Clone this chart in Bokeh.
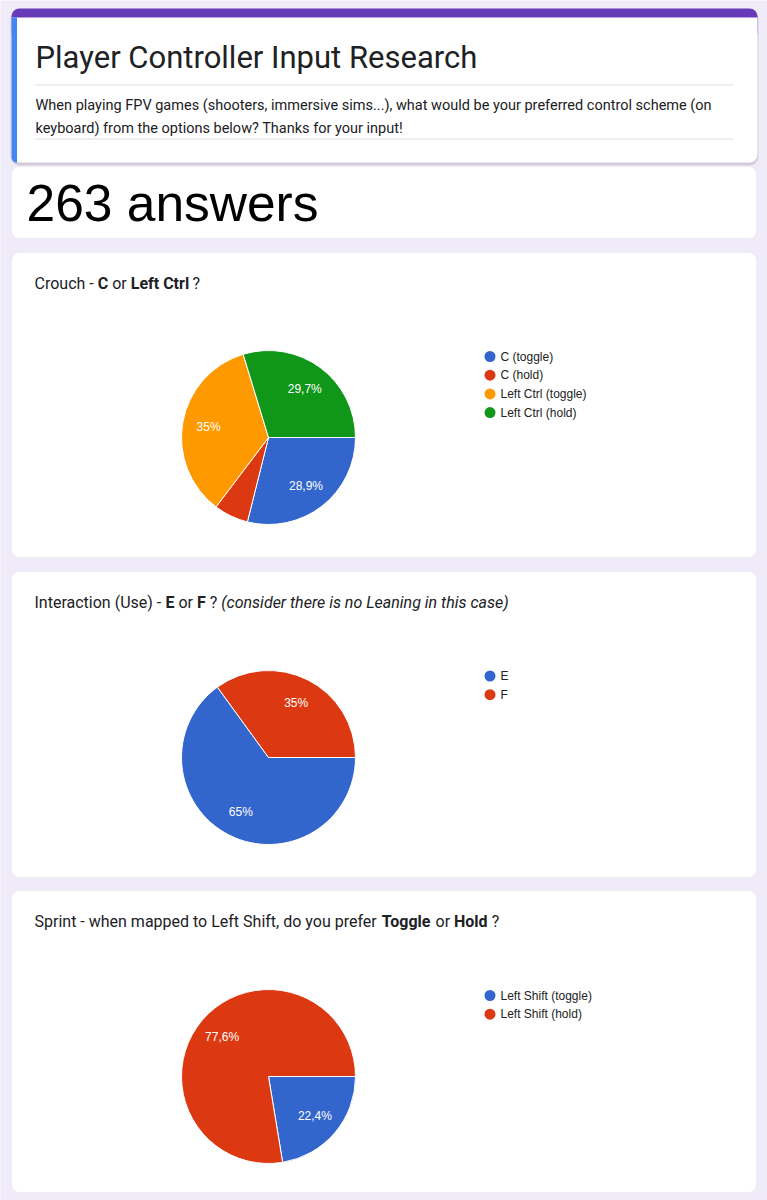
import math
from bokeh.plotting import figure
from bokeh.models import Range1d, BoxAnnotation, ColumnDataSource
from bokeh.core.properties import value
from bokeh.embed import file_html
from bokeh.resources import INLINE

# ---------------- data ----------------
form_title = "Player Controller Input Research"
form_desc = [
    "When playing FPV games (shooters, immersive sims...), what would be your preferred control scheme (on",
    "keyboard) from the options below? Thanks for your input!",
]
answers_text = "263 answers"

crouch_labels = ["C (toggle)", "C (hold)", "Left Ctrl (toggle)", "Left Ctrl (hold)"]
crouch_pcts = [28.9, 6.4, 35.0, 29.7]

use_labels = ["E", "F"]
use_pcts = [65.0, 35.0]

sprint_labels = ["Left Shift (toggle)", "Left Shift (hold)"]
sprint_pcts = [22.4, 77.6]

palette = ["#3366cc", "#dc3912", "#ff9900", "#109618"]

# question titles: (text, style)
crouch_q = [("Crouch -", "normal"), ("C", "bold"), ("or", "normal"),
            ("Left Ctrl", "bold"), ("?", "normal")]
use_q = [("Interaction (Use) -", "normal"), ("E", "bold"), ("or", "normal"),
         ("F", "bold"), ("?", "normal"),
         ("(consider there is no Leaning in this case)", "italic")]
sprint_q = [("Sprint - when mapped to Left Shift, do you prefer", "normal"),
            ("Toggle", "bold"), ("or", "normal"), ("Hold", "bold"), ("?", "normal")]

# ---------------- figure ----------------
W, H = 767, 1200
p = figure(width=W, height=H, x_range=Range1d(0, W), y_range=Range1d(0, H),
           output_backend="svg", toolbar_location=None,
           x_axis_type=None, y_axis_type=None, min_border=0)
p.grid.visible = False
p.outline_line_color = None
p.background_fill_color = "#f0ebf8"
p.border_fill_color = "#f0ebf8"


def Y(v):
    return H - v


def box(l, r, t, b, fill, line=None, radius=8, alpha=1.0):
    p.add_layout(BoxAnnotation(left=l, right=r, top=Y(t), bottom=Y(b), fill_color=fill,
                               fill_alpha=alpha, line_color=line, border_radius=radius,
                               level="underlay"))


L, R = 11, 757
# header card
box(L - 1, R + 1, 9, 165, "#c9c4d0", radius=9, alpha=0.8)
box(L, R, 8, 40, "#673ab7")
box(L, R, 17, 162, "#ffffff", radius=(0, 0, 8, 8))
box(L, L + 5.5, 17, 162, "#4285f4", radius=(0, 0, 0, 8))
# answers card and question cards
box(L, R - 1, 166, 238, "#ffffff", line="#dadce0")
box(L, R - 1, 252, 557, "#ffffff", line="#dadce0")
box(L, R - 1, 571, 877, "#ffffff", line="#dadce0")
box(L, R - 1, 890, 1192, "#ffffff", line="#dadce0")

# header texts
p.text(x=[35], y=[Y(57)], text=[form_title], text_font=value("Roboto"),
       text_font_size="31px", text_color="#202124", text_baseline="middle")
p.segment(x0=[35, 35], x1=[733, 733], y0=[Y(84.5), Y(138.5)], y1=[Y(84.5), Y(138.5)],
          line_color="#dadce0", line_width=1)
p.text(x=[35, 35], y=[Y(105), Y(128)], text=form_desc, text_font=value("Roboto"),
       text_font_size="14.5px", text_color="#202124", text_baseline="middle")
p.text(x=[26], y=[Y(202)], text=[answers_text], text_font=value("Liberation Sans"),
       text_font_size="51.5px", text_color="#000000", text_baseline="middle")

# approximate Roboto advance widths (em) used to lay out mixed-weight titles
REG = {' ': .248, '-': .276, '?': .473, '(': .342, ')': .348, ',': .196, 'C': .652,
       'I': .272, 'L': .538, 'S': .615, 'U': .648, 'a': .544, 'c': .523, 'd': .564,
       'e': .530, 'f': .347, 'h': .551, 'i': .243, 'm': .876, 'n': .552, 'o': .570,
       'p': .561, 'r': .338, 's': .516, 't': .327, 'u': .551, 'w': .751, 'y': .473}
BOLD = {'C': .654, 'E': .566, 'F': .550, 'L': .541, 'T': .616, 'H': .715, 't': .335,
        'r': .350, 'l': .262, 'f': .353, 'e': .533, 'o': .570, 'g': .566, 'd': .566,
        ' ': .248}


def width(txt, style, size):
    tbl = BOLD if style == "bold" else REG
    return sum(tbl.get(ch, .55) for ch in txt) * size


def question(parts, yc, x0=34, size=16):
    x = x0
    for txt, style in parts:
        p.text(x=[x], y=[Y(yc)], text=[txt], text_font=value("Roboto"),
               text_font_size=f"{size}px", text_color="#202124", text_baseline="middle",
               text_font_style=style)
        x += width(txt, style, size) + REG[' '] * size


def fmt(v):
    return ("%g" % v).replace(".", ",") + "%"


def pie(labels, pcts, cy, legend_y0):
    cx, r = 268, 87
    total = sum(pcts)
    cum = 0.0
    starts, ends, mids = [], [], []
    for v in pcts:
        a0 = cum / total
        cum += v
        a1 = cum / total
        starts.append(-2 * math.pi * a1)
        ends.append(-2 * math.pi * a0)
        mids.append(-2 * math.pi * (a0 + a1) / 2)
    cols = palette[:len(pcts)]
    src = ColumnDataSource(dict(start=starts, end=ends, color=cols))
    p.wedge(x=cx, y=Y(cy), radius=r, radius_units="screen", start_angle="start",
            end_angle="end", fill_color="color", line_color="white", line_width=1,
            source=src)
    lx, ly, lt = [], [], []
    for v, m in zip(pcts, mids):
        if v / total < 0.1:
            continue
        lx.append(cx + 0.7 * r * math.cos(m))
        ly.append(Y(cy) + 0.7 * r * math.sin(m))
        lt.append(fmt(v))
    p.text(x=lx, y=ly, text=lt, text_font=value("Liberation Sans"), text_font_size="12px",
           text_color="#ffffff", text_align="center", text_baseline="middle")
    # legend
    ys = [Y(legend_y0 + 18.7 * i) for i in range(len(labels))]
    p.scatter(x=[489.5] * len(labels), y=ys, size=11, marker="circle", fill_color=cols,
              line_color=None)
    p.text(x=[500] * len(labels), y=ys, text=labels, text_font=value("Liberation Sans"),
           text_font_size="12px", text_color="#222222", text_baseline="middle")


question(crouch_q, 283)
pie(crouch_labels, crouch_pcts, 437, 356)
question(use_q, 602)
pie(use_labels, use_pcts, 757, 675.5)
question(sprint_q, 921)
pie(sprint_labels, sprint_pcts, 1076, 995)

open("out.html", "w").write(file_html(p, INLINE))
